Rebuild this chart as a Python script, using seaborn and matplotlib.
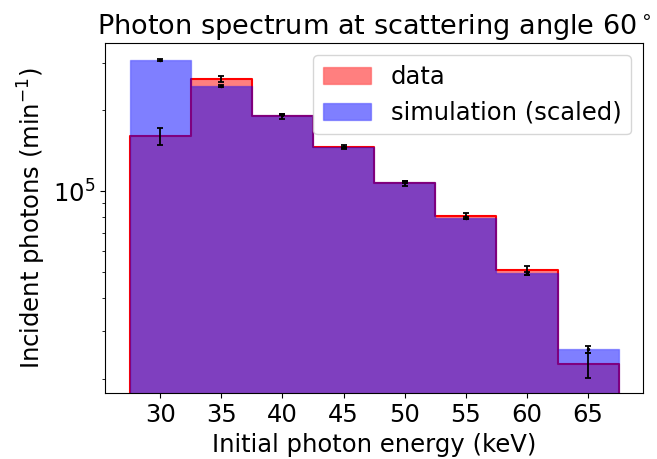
import matplotlib
matplotlib.use('Agg')
import matplotlib.pyplot as plt
import seaborn as sns
import pandas as pd
from matplotlib.patches import Patch

# bin centers (keV) and edges
energia = [30, 35, 40, 45, 50, 55, 60, 65]
bordas = [27.5, 32.5, 37.5, 42.5, 47.5, 52.5, 57.5, 62.5, 67.5]

# measured spectrum (min^-1) and its errors
dados = [1.60e5, 2.606e5, 1.897e5, 1.462e5, 1.068e5, 8.05e4, 5.08e4, 2.262e4]
dados_err = [1.2e4, 6.6e3, 3.5e3, 2.5e3, 2.0e3, 2.0e3, 2.0e3, 2.4e3]

# simulation, scaled to the data
simulacao = [3.076e5, 2.460e5, 1.923e5, 1.455e5, 1.083e5, 7.95e4, 4.94e4, 2.579e4]
simulacao_err = [1.5e3, 1.2e3, 1.0e3, 9e2, 8e2, 7e2, 6e2, 8e2]

df = pd.DataFrame({'energia': energia, 'dados': dados, 'simulacao': simulacao})

fig, ax = plt.subplots(figsize=(6.57, 4.59), dpi=100)
fig.subplots_adjust(left=0.160, right=0.979, bottom=0.143, top=0.907)

fs = 17.5

# histograma dos dados (preenchido, borda vermelha)
sns.histplot(data=df, x='energia', weights='dados', bins=bordas, element='step',
             fill=True, color='red', alpha=0.5, linewidth=1.5, ax=ax)
# histograma da simulacao por cima
sns.histplot(data=df, x='energia', weights='simulacao', bins=bordas, element='step',
             fill=True, color='blue', alpha=0.5, edgecolor=(0, 0, 1, 0.3),
             linewidth=1.0, ax=ax)

# barras de erro
ax.errorbar(energia, dados, yerr=dados_err, fmt='none', ecolor='black',
            elinewidth=1.3, capsize=2.5, capthick=1.3)
ax.errorbar(energia, simulacao, yerr=simulacao_err, fmt='k.', markersize=3,
            elinewidth=1.3, capsize=2.5, capthick=1.3)

ax.set_yscale('log')
ax.set_ylim(1.765e4, 3.567e5)
ax.set_xlim(25.5, 69.5)
ax.set_xticks(energia)
ax.tick_params(axis='both', which='major', labelsize=fs)

ax.set_title('Photon spectrum at scattering angle 60$^\\circ$', fontsize=19.5)
ax.set_xlabel('Initial photon energy (keV)', fontsize=fs)
ax.set_ylabel('Incident photons (min$^{-1}$)', fontsize=fs)

legenda = [Patch(facecolor=(1, 0, 0, 0.5), edgecolor=(1, 0, 0, 0.3), label='data'),
           Patch(facecolor=(0, 0, 1, 0.5), edgecolor=(0, 0, 1, 0.3), label='simulation (scaled)')]
ax.legend(handles=legenda, loc='upper right', fontsize=fs)

plt.savefig('out.png', dpi=100)
